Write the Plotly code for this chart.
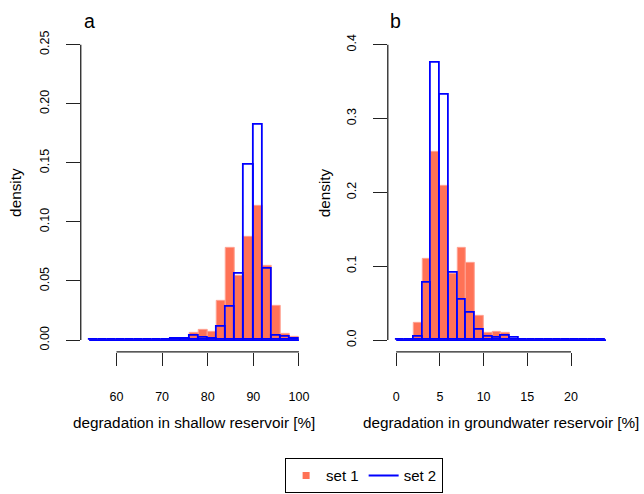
import plotly.graph_objects as go

# ---- data -------------------------------------------------------------
# panel a: bins of width 2 from 54 to 100 (density)
edges_a = list(range(54, 101, 2))
set1_a = [0, 0, 0, 0, 0, 0, 0, 0, 0, 0,
          0.0005, 0.0061, 0.0084, 0.0070, 0.0331, 0.0777, 0.0547,
          0.0875, 0.1139, 0.0631, 0.0291, 0.0056, 0.0025]
set2_a = [0, 0, 0, 0, 0, 0, 0, 0, 0, 0.0006,
          0.0010, 0.0034, 0.0022, 0.0011, 0.0115, 0.0280, 0.0564,
          0.1487, 0.1823, 0.0603, 0.0039, 0.0025, 0.0011]

# panel b: bins of width 1 from 0 to 24 (density)
edges_b = list(range(0, 25, 1))
set1_b = [0, 0, 0.0231, 0.1094, 0.2554, 0.2094, 0.0900, 0.1242, 0.1045,
          0.0330, 0.0097, 0.0108, 0.0099, 0, 0, 0, 0, 0, 0, 0, 0, 0, 0, 0]
set2_b = [0, 0.0008, 0.0047, 0.0777, 0.3760, 0.3315, 0.0912, 0.0551, 0.0371,
          0.0144, 0.0047, 0.0025, 0.0054, 0.0031, 0, 0, 0, 0, 0, 0, 0, 0, 0, 0]

xticks_a = [60, 70, 80, 90, 100]
yticks_a = [0.00, 0.05, 0.10, 0.15, 0.20, 0.25]
xticks_b = [0, 5, 10, 15, 20]
yticks_b = [0.0, 0.1, 0.2, 0.3, 0.4]

xlabel_a = "degradation in shallow reservoir [%]"
xlabel_b = "degradation in groundwater reservoir [%]"
ylabel = "density"
names = ["set 1", "set 2"]

# ---- style ------------------------------------------------------------
W, H = 644, 494
FONT = "Liberation Sans, Arial, sans-serif"
ORANGE = "#ff7256"
ORANGE_EDGE = "#ffa393"
BLUE = "#0000ff"
AXIS = "#222222"


def pad(lo, hi, f=0.04):
    d = (hi - lo) * f
    return [lo - d, hi + d]


def centers(edges):
    return [(edges[i] + edges[i + 1]) / 2 for i in range(len(edges) - 1)]


def widths(edges):
    return [edges[i + 1] - edges[i] for i in range(len(edges) - 1)]


fig = go.Figure()

panels = [
    dict(edges=edges_a, s1=set1_a, s2=set2_a, xa="x", ya="y"),
    dict(edges=edges_b, s1=set1_b, s2=set2_b, xa="x2", ya="y2"),
]

for p in panels:
    c, w = centers(p["edges"]), widths(p["edges"])
    fig.add_trace(go.Bar(
        x=c, y=p["s1"], width=w, xaxis=p["xa"], yaxis=p["ya"],
        marker=dict(color=ORANGE, line=dict(color=ORANGE_EDGE, width=1)),
        showlegend=False, hoverinfo="skip"))
    fig.add_trace(go.Bar(
        x=c, y=p["s2"], width=w, xaxis=p["xa"], yaxis=p["ya"],
        marker=dict(color="rgba(0,0,0,0)", line=dict(color=BLUE, width=1.8)),
        showlegend=False, hoverinfo="skip"))
    # zero-density bins of set 2 still show as a flat outline along the base
    fig.add_trace(go.Scatter(
        x=[p["edges"][0], p["edges"][-1]], y=[0, 0], mode="lines",
        xaxis=p["xa"], yaxis=p["ya"], line=dict(color=BLUE, width=1.8),
        showlegend=False, hoverinfo="skip"))

# legend entries
fig.add_trace(go.Scatter(x=[None], y=[None], mode="markers", name=names[0],
                         marker=dict(symbol="square", size=7, color=ORANGE)))
fig.add_trace(go.Scatter(x=[None], y=[None], mode="lines", name=names[1],
                         line=dict(color=BLUE, width=2)))

# plot regions (pixels from left / top)
xa_dom = [81 / W, 308.3 / W]
xb_dom = [389 / W, 616.3 / W]
y_dom = [(H - 351.3) / H, (H - 31) / H]

tickfont = dict(family=FONT, size=12.5, color="black")
common_x = dict(showgrid=False, zeroline=False, showline=False, ticks="outside",
                ticklen=13, tickwidth=1.3, tickcolor=AXIS, tickfont=tickfont,
                ticklabelstandoff=20, fixedrange=True)
common_y = dict(showgrid=False, zeroline=False, showline=False, ticks="outside",
                ticklen=14, tickwidth=1.3, tickcolor=AXIS, tickfont=tickfont,
                tickangle=-90, ticklabelstandoff=12, fixedrange=True)

fig.update_layout(
    width=W, height=H,
    margin=dict(l=0, r=0, t=0, b=0),
    paper_bgcolor="white", plot_bgcolor="white",
    barmode="overlay", bargap=0,
    font=dict(family=FONT, color="black"),
    xaxis=dict(domain=xa_dom, range=pad(edges_a[0], edges_a[-1]),
               tickvals=xticks_a, anchor="y", **common_x),
    yaxis=dict(domain=y_dom, range=pad(0, 0.25),
               tickvals=yticks_a, ticktext=[f"{v:.2f}" for v in yticks_a],
               anchor="x", **common_y),
    xaxis2=dict(domain=xb_dom, range=pad(edges_b[0], edges_b[-1]),
                tickvals=xticks_b, anchor="y2", **common_x),
    yaxis2=dict(domain=y_dom, range=pad(0, 0.4),
                tickvals=yticks_b, ticktext=[f"{v:.1f}" for v in yticks_b],
                anchor="x2", **common_y),
    legend=dict(orientation="h", x=286 / W, y=1 - 458 / H,
                xanchor="left", yanchor="top",
                bordercolor="black", borderwidth=1, bgcolor="white",
                font=dict(family=FONT, size=15, color="black")),
)

# axis lines spanning only the labelled range
line = dict(color=AXIS, width=1.3)
fig.add_shape(type="line", xref="x", yref="y domain", x0=xticks_a[0], x1=xticks_a[-1],
              y0=0, y1=0, line=line)
fig.add_shape(type="line", xref="x domain", yref="y", x0=0, x1=0,
              y0=yticks_a[0], y1=yticks_a[-1], line=line)
fig.add_shape(type="line", xref="x2", yref="y2 domain", x0=xticks_b[0], x1=xticks_b[-1],
              y0=0, y1=0, line=line)
fig.add_shape(type="line", xref="x2 domain", yref="y2", x0=0, x1=0,
              y0=yticks_b[0], y1=yticks_b[-1], line=line)

# axis titles and panel letters
title_font = dict(family=FONT, size=15.3, color="black")
ann = [
    dict(text=xlabel_a, x=(81 + 308.3) / 2 / W, y=1 - 422 / H, font=title_font),
    dict(text=xlabel_b, x=(389 + 616.3) / 2 / W, y=1 - 422 / H, font=title_font),
    dict(text=ylabel, x=15.7 / W, y=1 - 191 / H, textangle=-90, font=title_font),
    dict(text=ylabel, x=325 / W, y=1 - 191 / H, textangle=-90, font=title_font),
]
for a in ann:
    fig.add_annotation(xref="paper", yref="paper", showarrow=False,
                       xanchor="center", yanchor="middle", **a)

letter_font = dict(family=FONT, size=19.5, color="black")
for txt, x in (("a", 82), ("b", 389)):
    fig.add_annotation(text=txt, xref="paper", yref="paper", x=x / W, y=1 - 19.3 / H,
                       xanchor="left", yanchor="middle", showarrow=False,
                       font=letter_font)

fig.write_html("out.html")
